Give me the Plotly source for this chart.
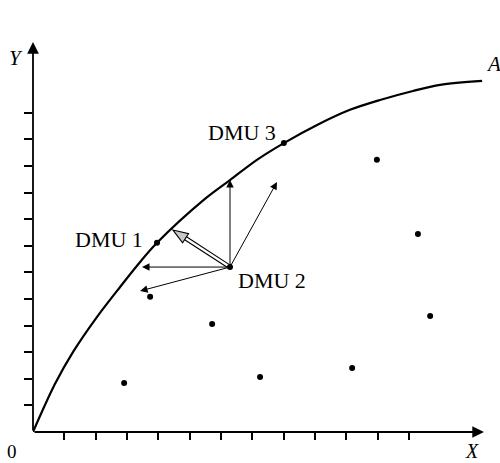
import plotly.graph_objects as go
import math

# ---- data (in axis units) ----
curve_x = [0, 0.70, 1.28, 2.04, 2.78, 3.42, 3.96, 5.49, 6.29, 7.15, 8.01, 9.07, 10.12, 11.08, 12.13, 13.0, 14.34]
curve_y = [0, 1.80, 3.01, 4.32, 5.45, 6.39, 7.11, 8.76, 9.47, 10.23, 10.86, 11.54, 12.11, 12.48, 12.82, 13.05, 13.20]

dmu_names = ["DMU 1", "DMU 2", "DMU 3"]
dmu_x = [3.96, 6.29, 8.01]
dmu_y = [7.11, 6.20, 10.86]

other_x = [3.74, 2.91, 5.72, 7.25, 10.19, 10.98, 12.29, 12.68]
other_y = [5.08, 1.84, 4.06, 2.07, 2.41, 10.23, 7.44, 4.36]

# thin arrows from DMU 2
arrow_tip_x = [3.48, 3.42, 6.29, 7.79]
arrow_tip_y = [6.20, 5.30, 9.47, 9.40]
# hollow (double) arrow from DMU 2 to the frontier
hollow_tip = (4.47, 7.59)

x_ticks = list(range(1, 13))
y_ticks = list(range(1, 13))

# ---- layout geometry ----
W, H = 500, 463
ml, mr, mt, mb = 33, 16, 42, 31
x_range = [0, 14.4]
y_range = [0, 14.66]
sx = (W - ml - mr) / (x_range[1] - x_range[0])
sy = (H - mt - mb) / (y_range[1] - y_range[0])

def to_paper(x, y):
    return ((x - x_range[0]) / (x_range[1] - x_range[0]),
            (y - y_range[0]) / (y_range[1] - y_range[0]))

fig = go.Figure()

fig.add_trace(go.Scatter(x=curve_x, y=curve_y, mode="lines",
                         line=dict(color="black", width=2.2, shape="spline", smoothing=0.9),
                         cliponaxis=False, hoverinfo="skip"))
fig.add_trace(go.Scatter(x=other_x + dmu_x, y=other_y + dmu_y, mode="markers",
                         marker=dict(color="black", size=6), cliponaxis=False))

annotations = []
# axes with arrows
annotations.append(dict(x=x_range[1], y=0, ax=0, ay=0, xref="x", yref="y", axref="x", ayref="y",
                        text="", showarrow=True, arrowhead=2, arrowsize=1.3, arrowwidth=1.8,
                        arrowcolor="black", standoff=0, startstandoff=0))
annotations.append(dict(x=0, y=y_range[1], ax=0, ay=0, xref="x", yref="y", axref="x", ayref="y",
                        text="", showarrow=True, arrowhead=2, arrowsize=1.3, arrowwidth=1.8,
                        arrowcolor="black", standoff=0, startstandoff=0))
# thin arrows from DMU 2
for tx, ty in zip(arrow_tip_x, arrow_tip_y):
    annotations.append(dict(x=tx, y=ty, ax=dmu_x[1], ay=dmu_y[1], xref="x", yref="y",
                            axref="x", ayref="y", text="", showarrow=True, arrowhead=2,
                            arrowsize=1.5, arrowwidth=1.0, arrowcolor="black", standoff=0))

serif = "Liberation Serif, Times New Roman, serif"
def label(text, x, y, size=22, italic=False, yanchor="middle"):
    px, py = to_paper(x, y)
    annotations.append(dict(x=px, y=py, xref="paper", yref="paper", text=text, showarrow=False,
                            font=dict(family=serif, size=size, color="black",
                                      style="italic" if italic else "normal"),
                            xanchor="center", yanchor=yanchor, borderpad=0))

bottom_y = -mb / sy  # bottom edge of the picture in axis units

label(dmu_names[0], 2.43, 7.25)
label(dmu_names[1], 7.63, 5.68)
label(dmu_names[2], 6.67, 11.27)
label("Y", -0.54, 14.05, size=21, italic=True)
label("A", 14.69, 13.83, size=21, italic=True)
label("X", 14.02, bottom_y, size=20, italic=True, yanchor="bottom")
label("0", -0.67, bottom_y, size=19, yanchor="bottom")

# hollow double arrow geometry (computed in pixel space from data points)
bx, by = dmu_x[1] * sx, dmu_y[1] * sy
tx, ty = hollow_tip[0] * sx, hollow_tip[1] * sy
dx, dy = tx - bx, ty - by
ln = math.hypot(dx, dy)
ux, uy = dx / ln, dy / ln
nx, ny = -uy, ux
L, Wd, g = 15, 5.5, 1.7
hx, hy = tx - L * ux, ty - L * uy
def d(px, py):
    return px / sx, py / sy
shapes = []
for s in (1, -1):
    p0 = d(bx + s * g * nx, by + s * g * ny)
    p1 = d(hx + s * g * nx, hy + s * g * ny)
    shapes.append(dict(type="line", xref="x", yref="y", x0=p0[0], y0=p0[1], x1=p1[0], y1=p1[1],
                       line=dict(color="black", width=1.1)))
a = d(tx, ty)
b = d(hx + Wd * nx, hy + Wd * ny)
c = d(hx - Wd * nx, hy - Wd * ny)
shapes.append(dict(type="path", xref="x", yref="y",
                   path=f"M {a[0]} {a[1]} L {b[0]} {b[1]} L {c[0]} {c[1]} Z",
                   fillcolor="#c8c8c8", line=dict(color="black", width=1.1)))

fig.update_layout(
    width=W, height=H, margin=dict(l=ml, r=mr, t=mt, b=mb, pad=0),
    paper_bgcolor="white", plot_bgcolor="white", showlegend=False,
    annotations=annotations, shapes=shapes,
    xaxis=dict(range=x_range, showgrid=False, zeroline=False, showline=False,
               ticks="outside", ticklen=7, tickwidth=1.5, tickcolor="black",
               tickvals=x_ticks, showticklabels=False, fixedrange=True),
    yaxis=dict(range=y_range, showgrid=False, zeroline=False, showline=False,
               ticks="outside", ticklen=8, tickwidth=1.5, tickcolor="black",
               tickvals=y_ticks, showticklabels=False, fixedrange=True),
)

fig.write_html("out.html", config={"displayModeBar": False},
               post_script="document.body.style.margin='0';")
